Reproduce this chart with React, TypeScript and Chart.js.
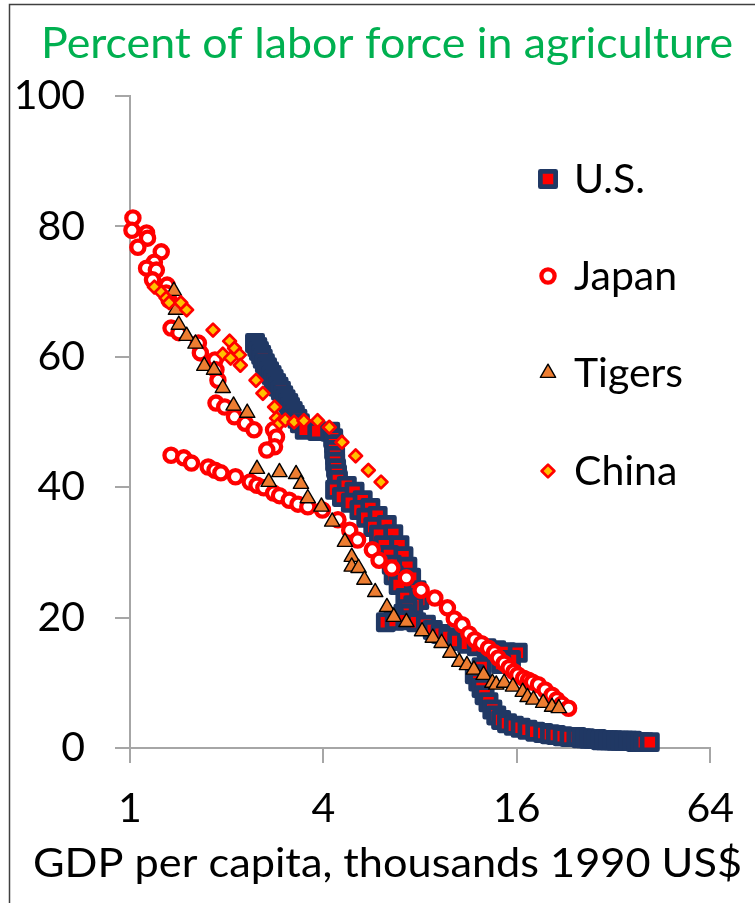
import React, { useEffect, useRef } from 'react';
import { Chart, registerables } from 'chart.js';
import { drawPoint } from 'chart.js/helpers';

Chart.register(...registerables);

const W = 755;
const H = 903;

const TITLE = 'Percent of labor force in agriculture';
const X_TITLE = 'GDP per capita, thousands 1990 US$';
const X_TICKS = [1, 4, 16, 64];
const Y_TICKS = [0, 20, 40, 60, 80, 100];

// U.S.: GDP per capita (thousands 1990 US$) and share of labor in agriculture (%)
const usGdp = [
  2.45, 2.49, 2.52, 2.56, 2.59, 2.63, 2.67, 2.71, 2.76, 2.8, 2.85, 2.9, 2.95, 3.0, 3.05, 3.11, 3.15, 3.21, 3.26, 3.32, 3.38,
  3.5, 3.83, 4.2,
  4.29, 4.32, 4.32, 4.35, 4.35, 4.38, 4.41, 4.44,
  4.35, 4.73, 4.57, 5.0, 4.87, 5.3, 5.18, 5.6, 5.44, 5.9, 5.72, 6.3, 5.96, 6.6,
  6.17, 6.9, 6.4, 7.1, 6.53, 7.3, 6.62, 7.5, 6.86, 7.8, 7.2, 7.95, 7.62,
  7.31, 7.1, 6.62, 6.26, 6.67, 7.2, 7.78, 8.34, 8.76,
  9.27, 9.8, 10.44, 11.2, 12.01, 12.88, 13.81, 14.82, 16.11,
  15.34, 14.3, 12.43, 11.84, 12.14, 12.43, 12.7, 13.06, 13.43, 13.81, 14.3, 14.92,
  15.67, 16.45, 17.28, 18.27, 19.34, 20.3, 21.17, 22.24, 23.35, 24.53, 25.41, 26.12, 26.86, 27.63,
  28.4, 29.23, 30.05, 30.9, 31.78, 32.67, 33.61, 34.57, 35.55, 36.55, 37.6, 38.69, 39.78, 41.5,
];
const usAgri = [
  62.1, 61.5, 60.9, 60.3, 59.7, 59.0, 58.4, 57.8, 57.2, 56.6, 56.0, 55.4, 54.8, 54.1, 53.5, 52.9, 52.3, 51.7, 51.1, 50.5, 49.8,
  48.8, 48.6, 48.5,
  47.5, 46.6, 45.7, 44.8, 43.9, 42.9, 42.0, 41.1,
  39.6, 40.2, 38.5, 39.3, 37.6, 38.0, 36.5, 36.8, 35.3, 35.6, 33.9, 34.2, 32.7, 32.8,
  31.1, 31.1, 29.6, 29.4, 28.1, 27.8, 26.5, 26.1, 25.0, 24.2, 23.0, 22.7, 21.9,
  21.3, 20.6, 20.1, 19.3, 19.5, 19.6, 19.3, 18.9, 18.1,
  17.5, 17.0, 16.4, 16.0, 15.6, 15.3, 15.0, 14.7, 14.6,
  13.5, 12.9, 12.4, 11.3, 10.2, 9.2, 8.1, 7.0, 5.9, 5.0, 4.3, 3.8,
  3.4, 3.1, 2.8, 2.5, 2.3, 2.1, 2.0, 1.8, 1.7, 1.7, 1.5, 1.5, 1.4, 1.4,
  1.4, 1.2, 1.2, 1.2, 1.2, 1.1, 1.1, 1.1, 1.1, 1.1, 0.9, 0.9, 0.9, 0.9,
];

// Japan: pre-war years followed by post-war years
const japanGdp = [
  1.021, 1.014, 1.126, 1.134, 1.058, 1.251, 1.191, 1.126, 1.208, 1.175, 1.305, 1.296, 1.323, 1.342, 1.419,
  1.633, 1.656, 1.839, 1.852, 1.878, 1.852, 1.972, 2.115, 2.284, 2.433, 2.798, 2.858, 2.818, 2.665,
  1.342, 1.47, 1.554, 1.751, 1.839, 1.918, 2.13, 2.366, 2.485, 2.61, 2.798, 2.919, 3.131, 3.334, 3.576, 3.972,
  4.44, 4.83, 5.11, 5.68, 5.96, 6.53, 7.25, 8.06, 8.89, 9.73, 10.22, 10.81, 11.35, 11.84, 12.43, 13.06,
  13.62, 14.01, 14.61, 15.13, 15.67, 16.11, 16.8, 17.4, 17.9, 18.67, 19.6, 20.59, 21.32, 22.08, 23.19,
];
const japanAgri = [
  81.3, 79.4, 79.0, 78.2, 76.8, 76.1, 74.5, 73.6, 73.3, 71.8, 71.0, 69.8, 68.7, 64.4, 63.7,
  62.1, 60.6, 59.5, 58.0, 56.4, 52.9, 52.3, 50.8, 49.8, 48.8, 48.8, 47.7, 46.2, 45.7,
  44.9, 44.5, 43.7, 43.1, 42.6, 42.2, 41.6, 40.8, 40.3, 39.9, 39.1, 38.7, 38.0, 37.4, 37.0, 36.5,
  35.0, 33.4, 31.9, 30.4, 28.8, 27.6, 26.1, 24.2, 23.0, 21.5, 19.8, 18.9, 17.5, 16.6, 16.0, 15.3,
  14.6, 13.8, 13.0, 12.3, 11.7, 11.2, 10.7, 10.4, 10.1, 9.7, 8.9, 8.1, 7.4, 6.7, 6.1,
];

// Asian Tigers
const tigersGdp = [
  1.37, 1.39, 1.419, 1.501, 1.599, 1.703, 1.826, 1.945, 2.101, 2.317,
  2.485, 2.703, 2.919, 3.288, 3.405, 3.576, 3.944, 4.26, 4.667, 4.9, 4.9, 5.147, 5.367, 5.798, 6.306,
  6.623, 7.253, 8.113, 8.762, 9.333, 9.939, 10.59, 11.19, 11.76, 12.61, 13.43, 13.81, 14.61, 15.56,
  16.69, 17.28, 18.02, 19.33, 20.59, 21.62,
];
const tigersAgri = [
  70.1, 67.2, 64.9, 63.2, 62.0, 58.6, 58.0, 55.2, 52.5, 51.4,
  42.8, 40.8, 42.3, 42.0, 40.5, 38.3, 37.0, 34.7, 31.6, 29.3, 27.8, 27.6, 25.8, 23.9, 21.6,
  20.1, 19.3, 17.9, 16.9, 16.1, 14.6, 13.2, 12.7, 12.0, 11.2, 10.0, 9.7, 10.0, 9.4,
  8.6, 7.8, 7.4, 6.9, 6.3, 6.1,
];

// China
const chinaGdp = [
  1.191, 1.251, 1.296, 1.323, 1.439, 1.501, 1.813, 2.042, 2.115, 2.191, 1.945, 2.057, 2.206, 2.467,
  2.592, 2.818, 2.858, 2.919, 3.044, 3.242, 3.477, 3.836, 4.172, 4.569, 5.04, 5.521, 6.046,
];
const chinaAgri = [
  70.7, 69.9, 69.0, 68.3, 68.3, 67.2, 64.1, 62.4, 61.3, 60.3, 60.4, 59.8, 58.7, 56.4,
  54.4, 52.3, 50.6, 49.8, 50.3, 50.0, 50.2, 50.2, 49.2, 46.9, 44.8, 42.6, 40.8,
];

const NAVY = '#203864';
const RED = '#FF0000';
const ORANGE = '#ED7D31';
const GOLD = '#FFC000';
const GREEN = '#00B050';
const AXIS = '#A6A6A6';
const FONT = 'Lato, "Open Sans", sans-serif';

const pts = (xs: number[], ys: number[]) => xs.map((x, i) => ({ x, y: ys[i] }));

function marker(style: string, radius: number, border: number, fill: string, stroke: string, order: number) {
  return {
    pointStyle: style,
    pointRadius: radius,
    pointHoverRadius: radius,
    pointBorderWidth: border,
    pointHoverBorderWidth: border,
    pointBackgroundColor: fill,
    pointBorderColor: stroke,
    backgroundColor: fill,
    borderColor: stroke,
    showLine: false,
    clip: false as const,
    order,
  };
}

function fitText(ctx: CanvasRenderingContext2D, text: string, x: number, baseline: number, width: number, font: string, color: string) {
  ctx.save();
  ctx.font = font;
  ctx.fillStyle = color;
  ctx.textAlign = 'left';
  ctx.textBaseline = 'alphabetic';
  const w = ctx.measureText(text).width;
  ctx.translate(x, baseline);
  ctx.scale(width / w, 1);
  ctx.fillText(text, 0, 0);
  ctx.restore();
}

const decor = {
  id: 'decor',
  beforeDraw(chart: any) {
    const ctx: CanvasRenderingContext2D = chart.ctx;
    ctx.save();
    ctx.fillStyle = '#ffffff';
    ctx.fillRect(0, 0, W, H);
    ctx.strokeStyle = '#404040';
    ctx.lineWidth = 1.5;
    ctx.beginPath();
    ctx.moveTo(9.5, H + 5);
    ctx.lineTo(9.5, 4.5);
    ctx.lineTo(W + 5, 4.5);
    ctx.stroke();
    ctx.restore();
  },
  beforeDatasetsDraw(chart: any) {
    chart.ctx.lineJoin = 'round';
  },
  afterDraw(chart: any) {
    const ctx: CanvasRenderingContext2D = chart.ctx;
    fitText(ctx, TITLE, 41, 58, 692, `42px ${FONT}`, GREEN);
    fitText(ctx, X_TITLE, 33, 877, 709, `41px ${FONT}`, '#000000');

    // legend inside the plot, one row per series
    const rows = [179, 276, 373, 471];
    chart.data.datasets.forEach((ds: any, i: number) => {
      const y = rows[i];
      ctx.save();
      ctx.lineJoin = 'round';
      ctx.fillStyle = ds.pointBackgroundColor;
      ctx.strokeStyle = ds.pointBorderColor;
      ctx.lineWidth = ds.pointBorderWidth;
      ctx.beginPath();
      drawPoint(ctx, { pointStyle: ds.pointStyle, radius: ds.pointRadius, borderWidth: ds.pointBorderWidth, rotation: 0 } as any, 548, y);
      ctx.fillStyle = '#000000';
      ctx.font = `41px ${FONT}`;
      ctx.textAlign = 'left';
      ctx.textBaseline = 'alphabetic';
      ctx.fillText(ds.label, 574, y + 14);
      ctx.restore();
    });
  },
};

export default function App() {
  const ref = useRef<HTMLCanvasElement>(null);

  useEffect(() => {
    const canvas = ref.current;
    if (!canvas) return;
    const tickFont = { family: FONT, size: 41 };
    const chart = new Chart(canvas, {
      type: 'scatter',
      data: {
        datasets: [
          { label: 'U.S.', data: pts(usGdp, usAgri), ...marker('rect', 10.8, 4.7, RED, NAVY, 4) },
          { label: 'Japan', data: pts(japanGdp, japanAgri), ...marker('circle', 6.6, 4.3, '#FFFFFF', RED, 3) },
          { label: 'Tigers', data: pts(tigersGdp, tigersAgri), ...marker('triangle', 8.8, 1.4, ORANGE, '#000000', 2) },
          { label: 'China', data: pts(chinaGdp, chinaAgri), ...marker('rectRot', 6.4, 2.7, GOLD, RED, 1) },
        ] as any,
      },
      options: {
        responsive: false,
        animation: false,
        events: [],
        layout: { padding: { top: 96, right: 31, bottom: 40, left: 0 } },
        plugins: {
          legend: { display: false },
          tooltip: { enabled: false },
          title: { display: false },
        },
        scales: {
          x: {
            type: 'logarithmic',
            position: 'bottom',
            min: 1,
            max: 64,
            afterBuildTicks: (s: any) => {
              s.ticks = X_TICKS.map((v) => ({ value: v }));
            },
            afterFit: (s: any) => {
              s.height = 115;
            },
            ticks: {
              font: tickFont,
              color: '#000000',
              padding: 21,
              maxRotation: 0,
              autoSkip: false,
              callback: (v: any) => String(v),
            },
            grid: { drawOnChartArea: false, drawTicks: true, tickLength: 15, color: AXIS, lineWidth: 2 },
            border: { display: true, color: AXIS, width: 2 },
          },
          y: {
            min: 0,
            max: 100,
            afterBuildTicks: (s: any) => {
              s.ticks = Y_TICKS.map((v) => ({ value: v }));
            },
            afterFit: (s: any) => {
              s.width = 130;
            },
            ticks: {
              font: tickFont,
              color: '#000000',
              padding: 30,
              callback: (v: any) => String(v),
            },
            grid: { drawOnChartArea: false, drawTicks: true, tickLength: 15, color: AXIS, lineWidth: 2 },
            border: { display: true, color: AXIS, width: 2 },
          },
        },
      } as any,
      plugins: [decor],
    });
    return () => chart.destroy();
  }, []);

  return (
    <div style={{ position: 'absolute', left: 0, top: 0, width: W, height: H, background: '#fff' }}>
      <canvas ref={ref} width={W} height={H} style={{ display: 'block', width: W, height: H }} />
    </div>
  );
}
